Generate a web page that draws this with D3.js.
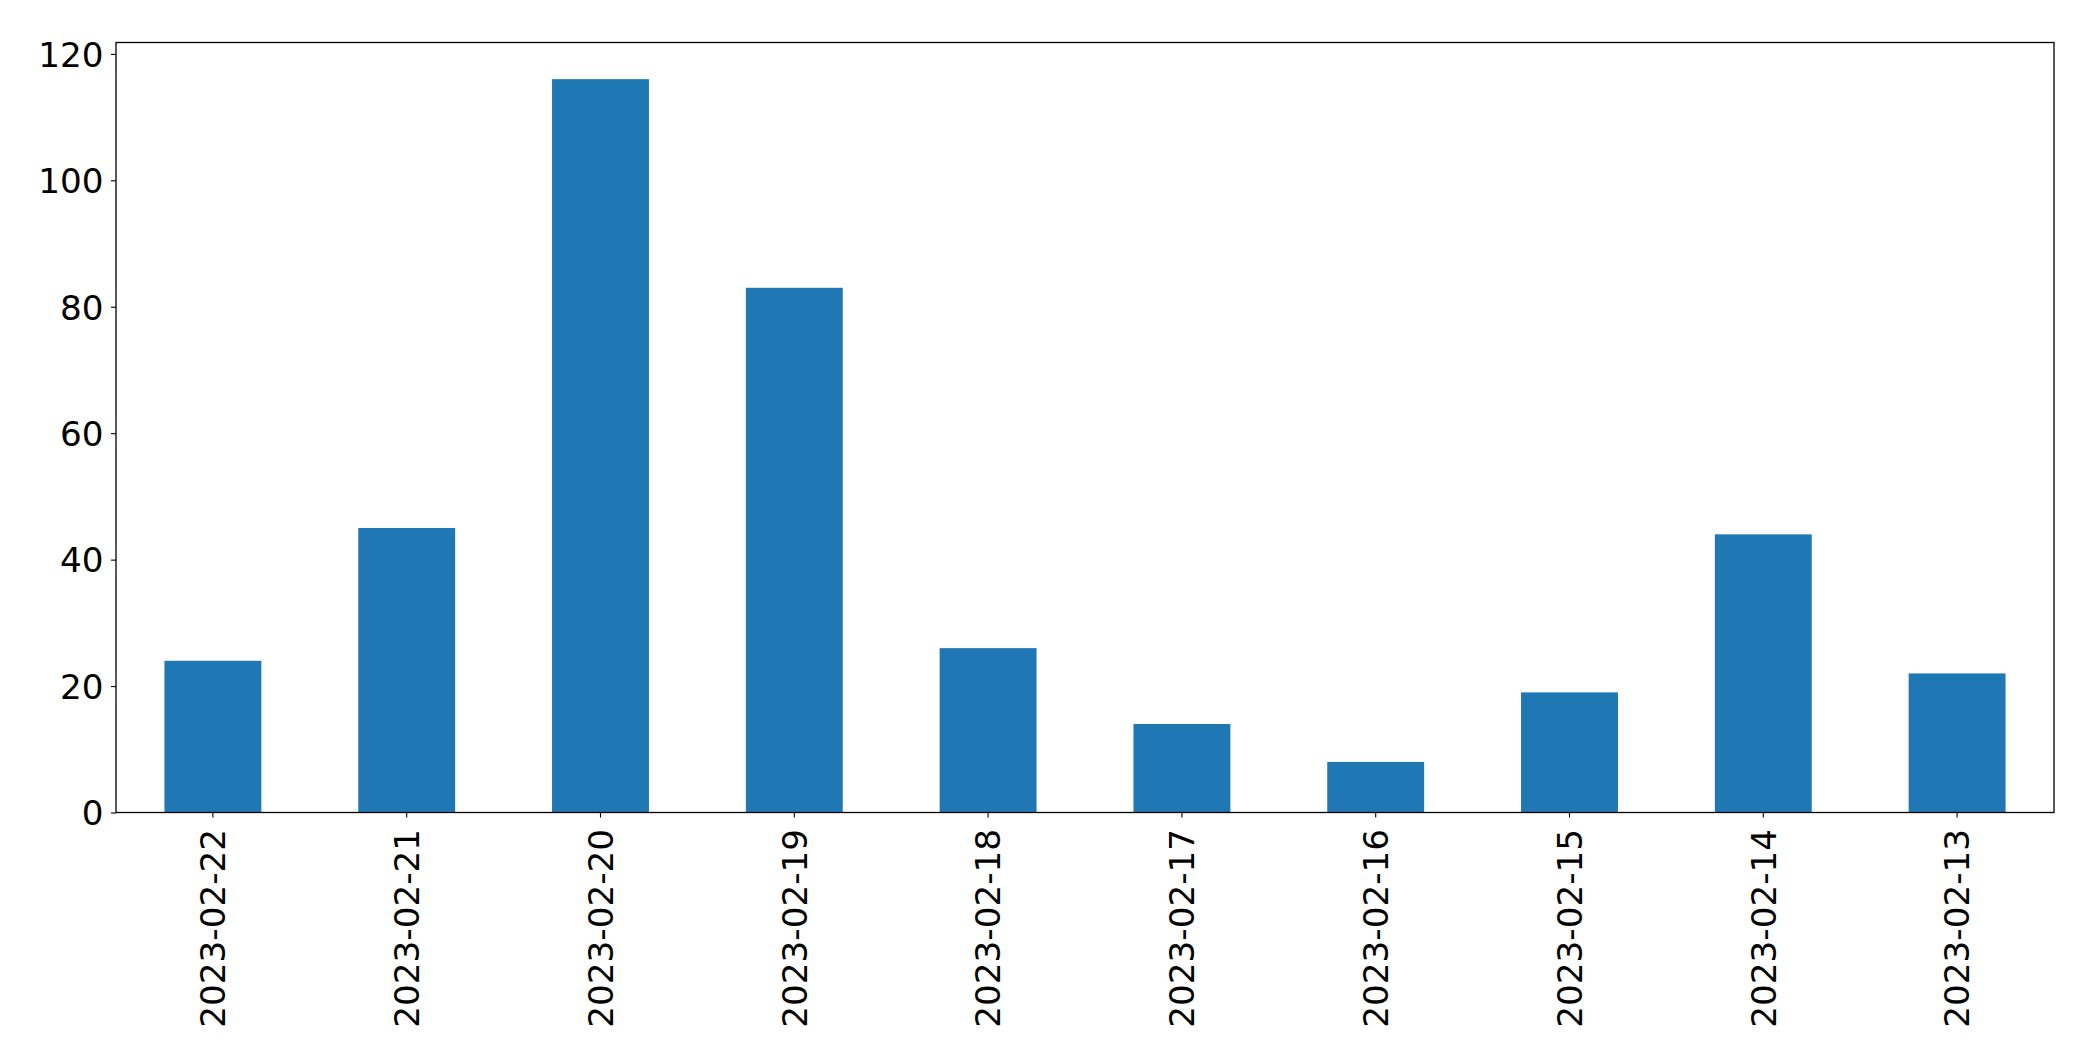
<!DOCTYPE html>
<html>
<head>
<meta charset="utf-8">
<script src="https://cdn.jsdelivr.net/npm/d3@7"></script>
<style>
  html, body { margin: 0; padding: 0; background: #fff; }
  svg { display: block; }
  text { font-family: "DejaVu Sans", sans-serif; }
</style>
</head>
<body>
<script>
const categories = ["2023-02-22","2023-02-21","2023-02-20","2023-02-19","2023-02-18","2023-02-17","2023-02-16","2023-02-15","2023-02-14","2023-02-13"];
const values = [24, 45, 116, 83, 26, 14, 8, 19, 44, 22];
const yTicks = [0, 20, 40, 60, 80, 100, 120];

const W = 2093, H = 1064;
const m = { left: 116, top: 42.5, right: 2054, bottom: 812.5 };
const fontSize = 34.2;

const svg = d3.select("body").append("svg").attr("width", W).attr("height", H);

const x = d3.scaleBand().domain(categories).range([m.left, m.right]).paddingInner(0.5).paddingOuter(0.25);
const yMax = d3.max(values) * 1.05;
const y = d3.scaleLinear().domain([0, yMax]).range([m.bottom, m.top]);

// bars
svg.append("g").selectAll("rect").data(values).join("rect")
  .attr("x", (d, i) => x(categories[i]))
  .attr("width", x.bandwidth())
  .attr("y", d => y(d))
  .attr("height", d => y(0) - y(d))
  .attr("fill", "#1f77b4");

// y axis
const yAxis = svg.append("g").attr("transform", `translate(${m.left},0)`)
  .call(d3.axisLeft(y).tickValues(yTicks).tickSize(5).tickPadding(7.5).tickFormat(d3.format("d")));
yAxis.select(".domain").remove();
yAxis.selectAll("line").attr("stroke", "#000").attr("stroke-width", 1.1);
yAxis.selectAll("text").attr("font-size", fontSize).attr("fill", "#000")
  .attr("font-family", "DejaVu Sans, sans-serif").attr("dy", "0.36em");

// x axis
const xAxis = svg.append("g").attr("transform", `translate(0,${m.bottom})`)
  .call(d3.axisBottom(x).tickSize(5).tickPadding(8));
xAxis.select(".domain").remove();
xAxis.selectAll("line").attr("stroke", "#000").attr("stroke-width", 1.1);
xAxis.selectAll("text")
  .attr("font-size", fontSize).attr("fill", "#000")
  .attr("font-family", "DejaVu Sans, sans-serif")
  .attr("text-anchor", "end")
  .attr("transform", "rotate(-90)")
  .attr("x", -16.5)
  .attr("y", 0)
  .attr("dy", "0.36em");

// frame
svg.append("rect")
  .attr("x", m.left).attr("y", m.top)
  .attr("width", m.right - m.left).attr("height", m.bottom - m.top)
  .attr("fill", "none").attr("stroke", "#000").attr("stroke-width", 1.3);
</script>
</body>
</html>
